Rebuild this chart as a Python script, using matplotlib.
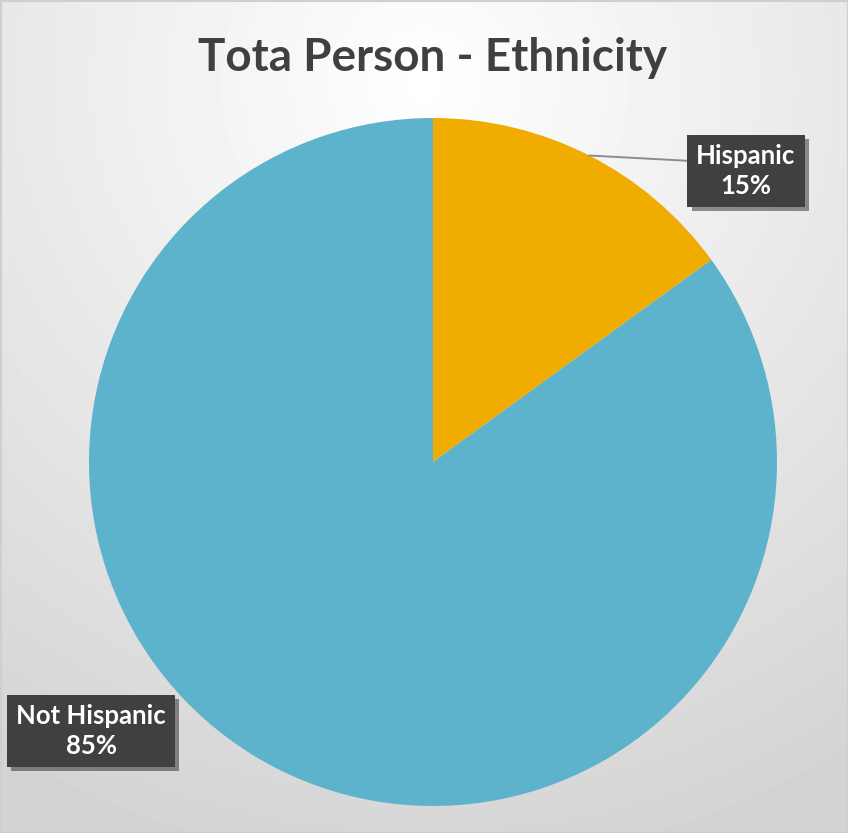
import matplotlib.pyplot as plt
import matplotlib.patheffects as pe
import numpy as np

plt.rcParams['font.family'] = ['Lato', 'DejaVu Sans']

categories = ['Hispanic', 'Not Hispanic']
shares = [15, 85]
colors = ['#F0AC00', '#5DB3CC']
title = 'Tota Person - Ethnicity'

W, H = 848, 833
fig = plt.figure(figsize=(W / 100, H / 100), dpi=100)

# radial gradient background
bg = fig.add_axes([0, 0, 1, 1])
yy, xx = np.mgrid[0:H, 0:W]
d = np.sqrt(((xx - W * 0.5) / W) ** 2 + ((yy - H * 0.1) / H) ** 2)
shade = 1.0 - 0.17 * np.clip(d / 0.95, 0, 1)
bg.imshow(shade, cmap='gray', vmin=0, vmax=1, extent=[0, W, H, 0], aspect='auto')
bg.add_patch(plt.Rectangle((0.5, 0.5), W - 1, H - 1, fill=False, ec='#cfcfcf', lw=1.5))
bg.set_xlim(0, W)
bg.set_ylim(H, 0)
bg.axis('off')

fig.text(433 / W, 1 - 58 / H, title, ha='center', va='center', fontsize=33,
         fontweight='bold', color='#404040')

cx, cy, r = 433, 462, 344
ax = fig.add_axes([(cx - r) / W, (H - cy - r) / H, 2 * r / W, 2 * r / H])
wedges, _ = ax.pie(shares, colors=colors, startangle=90, counterclock=False,
                   radius=1, wedgeprops=dict(linewidth=0))
ax.set_xlim(-1, 1)
ax.set_ylim(-1, 1)
ax.axis('off')

box = dict(boxstyle='square,pad=0.35', fc='#404040', ec='none')
shadow = [pe.SimplePatchShadow(offset=(3, -3), alpha=0.45), pe.Normal()]

w0 = wedges[0]
mid = np.deg2rad((w0.theta1 + w0.theta2) / 2)
t1 = ax.annotate(f'{categories[0]}\n{shares[0]}%', xy=(np.cos(mid), np.sin(mid)),
                 xytext=(0.91, 0.846), ha='center', va='center', fontsize=18.5,
                 fontweight='bold', color='white', linespacing=1.3, bbox=box,
                 arrowprops=dict(arrowstyle='-', color='#8c8c8c', lw=1.4,
                                 shrinkA=0, shrinkB=0, relpos=(0, 0.68)),
                 annotation_clip=False)
t2 = ax.text(-0.994, -0.782, f'{categories[1]}\n{shares[1]}%', ha='center', va='center',
             fontsize=18.5, fontweight='bold', color='white', linespacing=1.3, bbox=box,
             clip_on=False)
for t in (t1, t2):
    t.get_bbox_patch().set_path_effects(shadow)

fig.savefig('out.png', dpi=100)
